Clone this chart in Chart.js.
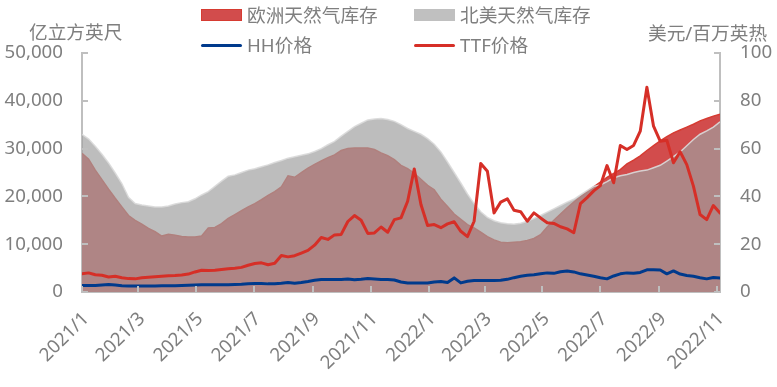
<!DOCTYPE html>
<html lang="zh-CN">
<head>
<meta charset="UTF-8">
<title>欧洲与北美天然气库存及价格</title>
<script src="https://cdn.jsdelivr.net/npm/chart.js"></script>
<style>
  html, body { margin: 0; padding: 0; background: #fff; }
  #wrap { position: relative; width: 777px; height: 387px; overflow: hidden;
          font-family: "Noto Sans", "Noto Sans CJK SC", sans-serif; font-size: 18.7px; color: #7f7f7f; }
  #wrap canvas { position: absolute; left: 0; top: 0; }
  .txt { position: absolute; white-space: nowrap; line-height: 20px; height: 20px; }
  .item { position: absolute; display: flex; align-items: center; white-space: nowrap; line-height: 20px; height: 20px; }
  .swatch { width: 41px; margin-right: 5px; box-sizing: border-box; }
  .sw-eu { height: 12px; background: rgb(210,76,76); border: 1.5px solid #d63b32; }
  .sw-na { height: 12px; background: #c0c0c0; }
  .sw-hh { height: 3px; background: #003a8c; border-radius: 2px; }
  .sw-ttf { height: 3px; background: #d62f27; border-radius: 2px; }
</style>
</head>
<body>
<div id="wrap">
  <canvas id="chart" width="777" height="387"></canvas>
  <div class="txt" style="left:29px; top:22px;">亿立方英尺</div>
  <div class="txt" style="left:648px; top:23px;">美元/百万英热</div>
  <div class="item" style="left:201px; top:5px;"><span class="swatch sw-eu"></span>欧洲天然气库存</div>
  <div class="item" style="left:414px; top:5px;"><span class="swatch sw-na"></span>北美天然气库存</div>
  <div class="item" style="left:201px; top:35px;"><span class="swatch sw-hh"></span>HH价格</div>
  <div class="item" style="left:414px; top:35px;"><span class="swatch sw-ttf"></span>TTF价格</div>
</div>
<script>
// weekly observations (Fridays)
const weekDates = [
  '2021-01-01','2021-01-08','2021-01-15','2021-01-22','2021-01-29',
  '2021-02-05','2021-02-12','2021-02-19','2021-02-26',
  '2021-03-05','2021-03-12','2021-03-19','2021-03-26',
  '2021-04-02','2021-04-09','2021-04-16','2021-04-23','2021-04-30',
  '2021-05-07','2021-05-14','2021-05-21','2021-05-28',
  '2021-06-04','2021-06-11','2021-06-18','2021-06-25',
  '2021-07-02','2021-07-09','2021-07-16','2021-07-23','2021-07-30',
  '2021-08-06','2021-08-13','2021-08-20','2021-08-27',
  '2021-09-03','2021-09-10','2021-09-17','2021-09-24',
  '2021-10-01','2021-10-08','2021-10-15','2021-10-22','2021-10-29',
  '2021-11-05','2021-11-12','2021-11-19','2021-11-26',
  '2021-12-03','2021-12-10','2021-12-17','2021-12-24','2021-12-31',
  '2022-01-07','2022-01-14','2022-01-21','2022-01-28',
  '2022-02-04','2022-02-11','2022-02-18','2022-02-25',
  '2022-03-04','2022-03-11','2022-03-18','2022-03-25',
  '2022-04-01','2022-04-08','2022-04-15','2022-04-22','2022-04-29',
  '2022-05-06','2022-05-13','2022-05-20','2022-05-27',
  '2022-06-03','2022-06-10','2022-06-17','2022-06-24',
  '2022-07-01','2022-07-08','2022-07-15','2022-07-22','2022-07-29',
  '2022-08-05','2022-08-12','2022-08-19','2022-08-26',
  '2022-09-02','2022-09-09','2022-09-16','2022-09-23','2022-09-30',
  '2022-10-07','2022-10-14','2022-10-21','2022-10-28',
  '2022-11-04'
];

// 欧洲天然气库存, 亿立方英尺
const euStorage = [
  29000,27800,25500,23500,21500,19600,17800,16000,15000,14200,
  13300,12600,11700,12100,11900,11600,11500,11500,11700,13400,
  13500,14300,15400,16200,17000,17800,18500,19300,20200,21000,
  22000,24300,24000,25000,25900,26700,27400,28100,28700,29600,
  30000,30100,30100,30100,29800,29100,28500,27700,26500,25800,
  24800,23600,22300,21400,19400,17900,16300,15200,14100,13400,
  12500,11600,10900,10400,10300,10400,10500,10800,11200,12000,
  13600,15000,16300,17600,18800,19900,21000,22000,23000,24000,
  24800,25600,26800,27600,28500,29600,30600,31600,32500,33300,
  33900,34500,35100,35800,36300,36800,37200
];

// 北美天然气库存, 亿立方英尺
const naStorage = [
  33000,32000,30500,28800,27000,24900,22700,19800,18500,18200,
  18000,17800,17800,18000,18400,18700,18900,19500,20300,21000,
  22100,23200,24200,24500,25000,25500,25800,26200,26600,27100,
  27500,28000,28300,28600,28900,29400,30000,30800,31500,32600,
  33600,34600,35300,36000,36200,36300,36100,35700,35000,34200,
  33600,33000,32100,30900,29300,27200,25000,22800,20500,18500,
  16800,15600,14900,14500,14300,14200,14400,14800,15400,16000,
  16700,17400,18100,18800,19400,20300,21200,22100,22400,23100,
  23900,24300,24600,25000,25300,25500,26000,26500,27400,28300,
  29300,30600,31900,33000,33700,34500,35600
];

// HH价格, 美元/百万英热
const hhPrice = [
  2.7,2.7,2.7,2.9,3.1,2.9,2.6,2.5,2.5,2.5,
  2.5,2.5,2.6,2.6,2.6,2.7,2.8,2.9,3.0,3.0,
  3.0,3.0,3.0,3.1,3.2,3.5,3.6,3.6,3.4,3.5,
  3.7,4.0,3.7,4.0,4.4,4.9,5.2,5.2,5.2,5.2,
  5.4,5.1,5.3,5.6,5.4,5.2,5.2,5.0,4.2,3.8,
  3.8,3.8,3.8,4.2,4.4,4.0,5.9,3.8,4.5,4.8,
  4.8,4.8,4.8,4.9,5.3,6.0,6.6,7.0,7.2,7.6,
  8.0,7.8,8.5,8.8,8.4,7.6,7.1,6.6,6.0,5.5,
  6.7,7.6,8.0,7.8,8.2,9.3,9.3,9.2,7.6,8.8,
  7.5,6.9,6.6,6.0,5.5,6.1,5.9
];

// TTF价格, 美元/百万英热
const ttfPrice = [
  7.6,8.0,7.2,7.0,6.3,6.6,6.0,5.6,5.5,6.0,
  6.2,6.4,6.6,6.8,6.9,7.1,7.5,8.4,9.1,9.0,
  9.1,9.4,9.7,9.9,10.3,11.2,11.9,12.2,11.4,12.0,
  15.3,14.7,15.2,16.3,17.4,19.6,22.8,22.0,23.9,24.1,
  29.5,32.0,30.0,24.5,24.7,27.2,25.0,30.3,31.0,38.0,
  51.5,36.6,27.8,28.2,26.9,28.5,29.4,25.4,23.2,29.6,
  53.8,50.5,33.1,37.6,39.0,34.2,33.6,29.6,33.1,31.0,
  29.0,28.7,27.3,26.4,24.8,37.0,39.5,42.3,44.5,52.9,
  45.7,61.3,59.6,61.3,67.3,85.7,69.4,63.1,63.5,54.1,
  58.7,53.3,44.3,32.4,30.3,36.2,33.1
];

const tickDates = ['2021-01-01','2021-03-01','2021-05-01','2021-07-01','2021-09-01','2021-11-01',
                   '2022-01-01','2022-03-01','2022-05-01','2022-07-01','2022-09-01','2022-11-01'];
const tickLabels = ['2021/1','2021/3','2021/5','2021/7','2021/9','2021/11',
                    '2022/1','2022/3','2022/5','2022/7','2022/9','2022/11'];

const grey = '#7f7f7f';
const axisGrey = '#bfbfbf';
const font = { family: '"Noto Sans", "Noto Sans CJK SC", sans-serif', size: 18.7 };

const origin = Date.UTC(2021, 0, 1);
function dayOf(s) {
  const [y, m, d] = s.split('-').map(Number);
  return (Date.UTC(y, m - 1, d) - origin) / 86400000;
}
const xs = weekDates.map(dayOf);
const pts = arr => arr.map((v, i) => ({ x: xs[i], y: v }));

// short tick marks pointing into the plot, like the original
const innerTicks = {
  id: 'innerTicks',
  afterDatasetsDraw(chart) {
    const { ctx, chartArea: a, scales } = chart;
    ctx.save();
    ctx.strokeStyle = axisGrey;
    ctx.lineWidth = 2;
    ctx.beginPath();
    scales.y.ticks.forEach(t => {
      const y = Math.round(scales.y.getPixelForValue(t.value));
      ctx.moveTo(a.left, y); ctx.lineTo(a.left + 6, y);
    });
    scales.y1.ticks.forEach(t => {
      const y = Math.round(scales.y1.getPixelForValue(t.value));
      ctx.moveTo(a.right, y); ctx.lineTo(a.right - 6, y);
    });
    scales.x.ticks.forEach(t => {
      const x = Math.round(scales.x.getPixelForValue(t.value));
      ctx.moveTo(x, a.bottom); ctx.lineTo(x, a.bottom - 6);
    });
    ctx.stroke();
    ctx.restore();
  }
};

new Chart(document.getElementById('chart'), {
  type: 'line',
  data: {
    datasets: [
      {
        label: '欧洲天然气库存',
        data: pts(euStorage),
        yAxisID: 'y',
        fill: 'origin',
        backgroundColor: 'rgb(210,76,76)',
        borderColor: '#d63b32',
        borderWidth: 1.5,
        pointRadius: 0,
        order: 3
      },
      {
        label: '北美天然气库存',
        data: pts(naStorage),
        yAxisID: 'y',
        fill: 'origin',
        backgroundColor: 'rgba(160,160,160,0.69)',
        borderColor: 'rgba(218,218,218,0.9)',
        borderWidth: 1.5,
        pointRadius: 0,
        order: 2
      },
      {
        label: 'HH价格',
        data: pts(hhPrice),
        yAxisID: 'y1',
        fill: false,
        borderColor: '#003a8c',
        borderWidth: 3,
        borderJoinStyle: 'round',
        borderCapStyle: 'round',
        pointRadius: 0,
        order: 1
      },
      {
        label: 'TTF价格',
        data: pts(ttfPrice),
        yAxisID: 'y1',
        fill: false,
        borderColor: '#d62f27',
        borderWidth: 3,
        borderJoinStyle: 'round',
        borderCapStyle: 'round',
        pointRadius: 0,
        order: 0
      }
    ]
  },
  options: {
    responsive: false,
    animation: false,
    devicePixelRatio: 1,
    layout: { padding: { top: 53, left: 0, right: 0, bottom: 0 } },
    plugins: {
      legend: { display: false },
      tooltip: { enabled: false }
    },
    scales: {
      x: {
        type: 'linear',
        min: 0,
        max: 672,
        afterBuildTicks: s => { s.ticks = tickDates.map(d => ({ value: dayOf(d) })); },
        afterFit: s => { s.height = 95; },
        grid: { display: false, drawTicks: false },
        border: { color: axisGrey, width: 2 },
        ticks: {
          autoSkip: false,
          minRotation: 45,
          maxRotation: 45,
          padding: 16,
          labelOffset: 4,
          color: grey,
          font: font,
          callback: (v, i) => tickLabels[i]
        }
      },
      y: {
        position: 'left',
        min: 0,
        max: 50000,
        afterFit: s => { s.width = 82; },
        grid: { display: false, drawTicks: false },
        border: { color: axisGrey, width: 2 },
        ticks: {
          stepSize: 10000,
          padding: 19,
          color: grey,
          font: font,
          callback: v => v.toLocaleString('en-US')
        }
      },
      y1: {
        position: 'right',
        min: 0,
        max: 100,
        afterFit: s => { s.width = 57; },
        grid: { display: false, drawTicks: false },
        border: { color: axisGrey, width: 2 },
        ticks: {
          stepSize: 20,
          padding: 20,
          color: grey,
          font: font
        }
      }
    }
  },
  plugins: [innerTicks]
});
</script>
</body>
</html>
